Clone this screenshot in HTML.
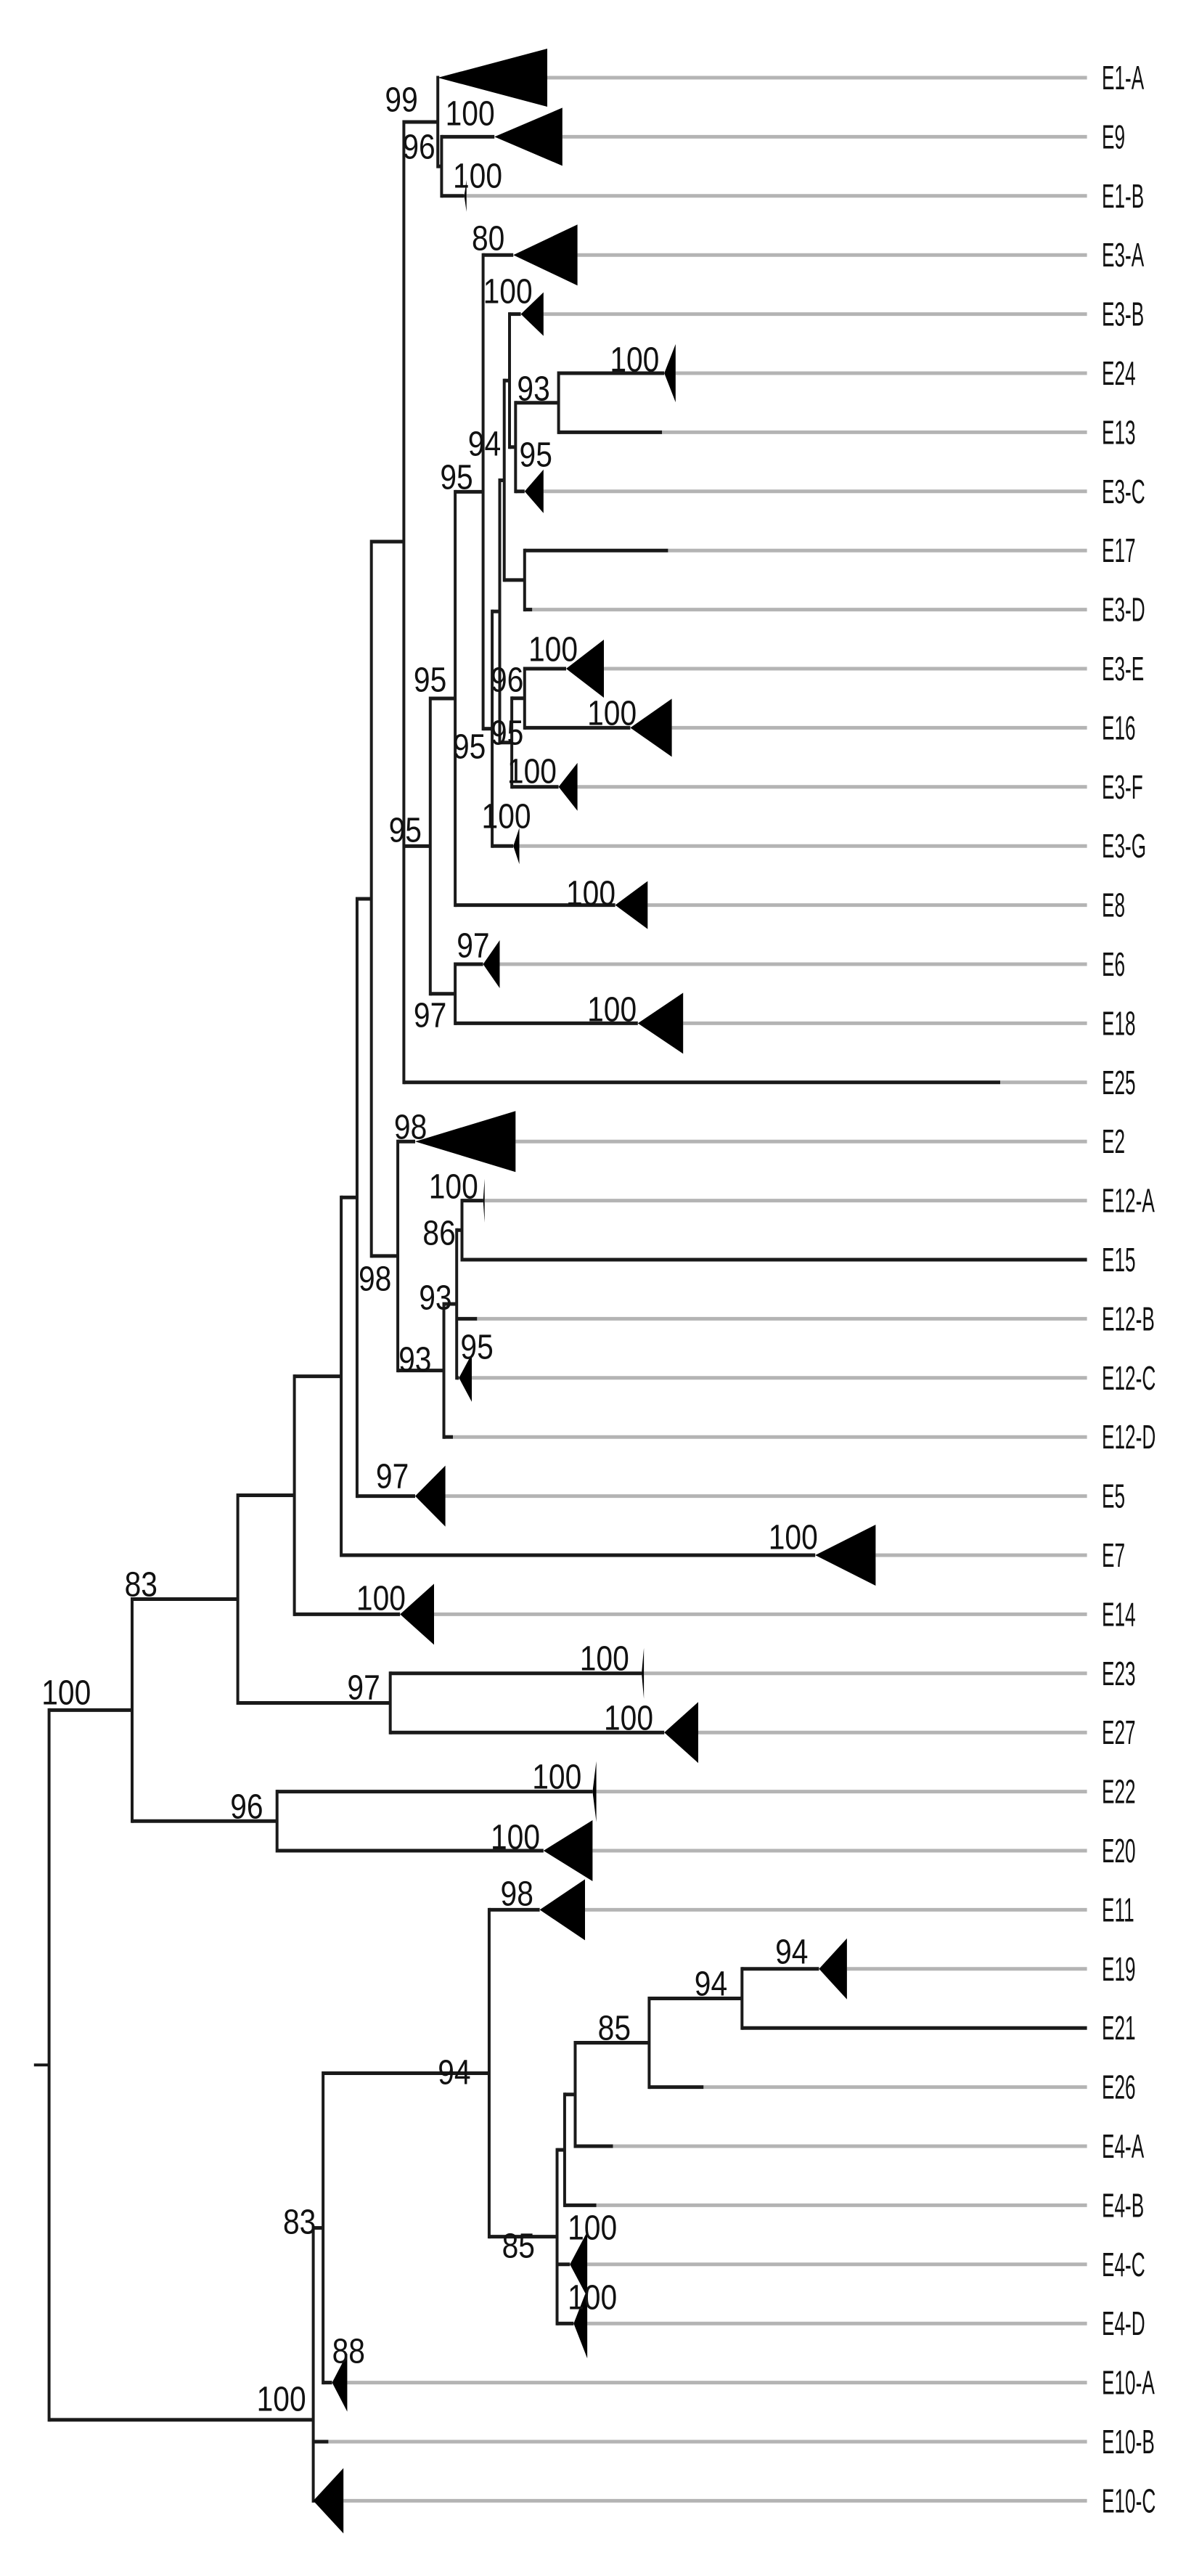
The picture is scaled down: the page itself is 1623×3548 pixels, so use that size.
<!DOCTYPE html>
<html><head><meta charset="utf-8"><style>
html,body{margin:0;padding:0;background:#fff}
svg{display:block}
text{font-family:"Liberation Sans",sans-serif;fill:#111}
</style></head><body>
<svg id="tree" width="1623" height="3548" viewBox="0 0 1623 3548" xmlns="http://www.w3.org/2000/svg"></svg>
<script>
// leaf names in display order
const leafNames = ['E1-A','E9','E1-B','E3-A','E3-B','E24','E13','E3-C','E17','E3-D','E3-E','E16','E3-F','E3-G','E8','E6','E18','E25','E2','E12-A','E15','E12-B','E12-C','E12-D','E5','E7','E14','E23','E27','E22','E20','E11','E19','E21','E26','E4-A','E4-B','E4-C','E4-D','E10-A','E10-B','E10-C'];
const ROW0 = 107, ROWH = 81.4, XS = 1.04, GREY_END = 1440, LABEL_X = 1518;

function n(x, children, boot, yOverride){ return {x, children, boot, yOverride}; }
function l(name, end, tri, boot){ return {name, end, tri, boot, leaf:true}; }

const tree = n(65,[
 n(175,[
   n(315,[
     n(390,[
       n(452,[
         n(473,[
           n(492,[
             n(535,[
               n(580,[
                 l('E1-A',580,[725,40]),
                 n(585,[ l('E9',655,[745,40],['100',590,157]), l('E1-B',615,[618,22],['100',600,243]) ],['96',533,203])
               ],['99',510,138]),
               n(570,[
                 n(603,[
                   n(640,[
                     l('E3-A',680,[765,42],['80',625,329]),
                     n(652,[
                       n(662,[
                         n(668,[
                           n(675,[ l('E3-B',690,[720,30],['100',640,402]),
                                   n(683,[ n(740,[ l('E24',880,[895,40],['100',808,496]), l('E13',877) ]), l('E3-C',695,[720,30],['95',688,627]) ],['93',685,536]) ]),
                           n(695,[ l('E17',885), l('E3-D',705) ])
                         ],['94',620,612]),
                         n(678,[ n(695,[ l('E3-E',750,[800,40],['100',700,895]), l('E16',835,[890,40],['100',778,983]) ],['95',650,1010]), l('E3-F',740,[765,33],['100',672,1063]) ],['96',650,937])
                       ]),
                       l('E3-G',680,[688,25],['100',638,1125])
                     ],['95',600,1029])
                   ],['95',583,658]),
                   l('E8',815,[858,33],['100',750,1231])
                 ],['95',548,937]),
                 n(603,[ l('E6',640,[662,33],['97',605,1303]), l('E18',845,[905,42],['100',778,1391]) ],['97',548,1399])
               ],['95',515,1144]),
               l('E25',1325)
             ],null,7.85),
             n(527,[
               l('E2',550,[683,42],['98',522,1553]),
               n(588,[
                 n(605,[
                   n(612,[ l('E12-A',640,[642,30],['100',568,1635]), l('E15',1440) ],['86',560,1699]),
                   l('E12-B',632),
                   l('E12-C',608,[625,33],['95',610,1856])
                 ],['93',555,1788]),
                 l('E12-D',600)
               ],['93',528,1873])
             ],['98',475,1762])
           ]),
           l('E5',550,[590,42],['97',498,2034])
         ]),
         l('E7',1080,[1160,42],['100',1018,2118])
       ]),
       l('E14',530,[575,42],['100',472,2202])
     ]),
     n(517,[ l('E23',850,[853,35],['100',768,2285]), l('E27',880,[925,42],['100',800,2367]) ],['97',460,2325])
   ],['83',165,2183]),
   n(367,[ l('E22',785,[790,42],['100',705,2448]), l('E20',720,[785,42],['100',650,2531]) ],['96',305,2489])
 ],['100',55,2332]),
 n(415,[
   n(428,[
     n(648,[
       l('E11',715,[775,42],['98',663,2609]),
       n(738,[
         n(748,[
           n(762,[
             n(860,[
               n(983,[ l('E19',1085,[1122,42],['94',1027,2689]), l('E21',1440) ],['94',920,2733]),
               l('E26',932)
             ],['85',792,2794]),
             l('E4-A',812)
           ]),
           l('E4-B',790)
         ]),
         l('E4-C',755,[778,45],['100',752,3069]),
         l('E4-D',760,[778,48],['100',752,3165])
       ],['85',665,3094])
     ],['94',580,2855]),
     l('E10-A',440,[460,40],['88',440,3239])
   ],['83',375,3061]),
   l('E10-B',435),
   l('E10-C',415,[455,45])
 ],['100',340,3305],39.63)
]);

const svg = document.getElementById('tree');
const NS = 'http://www.w3.org/2000/svg';
const X = v => v*XS;
const Y = r => ROW0 + ROWH*r;
let leafIdx = 0;
function mk(tag, attrs){ const e=document.createElementNS(NS,tag); for(const k in attrs) e.setAttribute(k,attrs[k]); svg.appendChild(e); return e; }
function line(x1,y1,x2,y2,color,w,name){
  const e = mk('line',{x1,y1,x2,y2,stroke:color,'stroke-width':w,'stroke-linecap':'butt'});
  
  
  return e;
}
function bootLabel(b){
  if(!b) return;
  const t = mk('text',{transform:`translate(${X(b[1])},${b[2]}) scale(0.85,1)`,'font-size':48,'dominant-baseline':'central'});
  t.textContent = b[0];
  
  
}
function layout(node){
  if(node.leaf){ node.row = leafIdx++; return node.row; }
  const rows = node.children.map(layout);
  node.row = node.yOverride!=null ? node.yOverride : (rows[0]+rows[rows.length-1])/2;
  return node.row;
}
function draw(node, parentX){
  const y = Y(node.row);
  if(node.leaf){
    const endX = node.tri ? node.tri[0] : node.end;
    line(X(endX), y, X(GREY_END), y, '#b4b4b4', 5, 'leaf-guide-line');
    line(X(parentX), y, X(node.end), y, '#1a1a1a', 5, 'branch-'+node.name);
    if(node.tri){
      const p = mk('polygon',{points:`${X(node.end)},${y} ${X(node.tri[0])},${y-node.tri[1]} ${X(node.tri[0])},${y+node.tri[1]}`,fill:'#000'});
      
      
    }
    const t = mk('text',{transform:`translate(${LABEL_X},${y}) scale(0.57,1)`,'font-size':46,'dominant-baseline':'central'});
    t.textContent = node.name;
    
    
    bootLabel(node.boot);
    return;
  }
  if(parentX!=null) line(X(parentX), y, X(node.x), y, '#1a1a1a', 5, 'internal-branch');
  const c0 = node.children[0], cN = node.children[node.children.length-1];
  line(X(node.x), Y(c0.row)-2.5, X(node.x), Y(cN.row)+2.5, '#1a1a1a', 4, 'node-vertical');
  node.children.forEach(c => draw(c, node.x));
  bootLabel(node.boot);
}
layout(tree);
// root stub
line(X(45), Y(tree.row), X(65), Y(tree.row), '#1a1a1a', 4, 'root-stub');
draw(tree, null);
</script>
</body></html>
